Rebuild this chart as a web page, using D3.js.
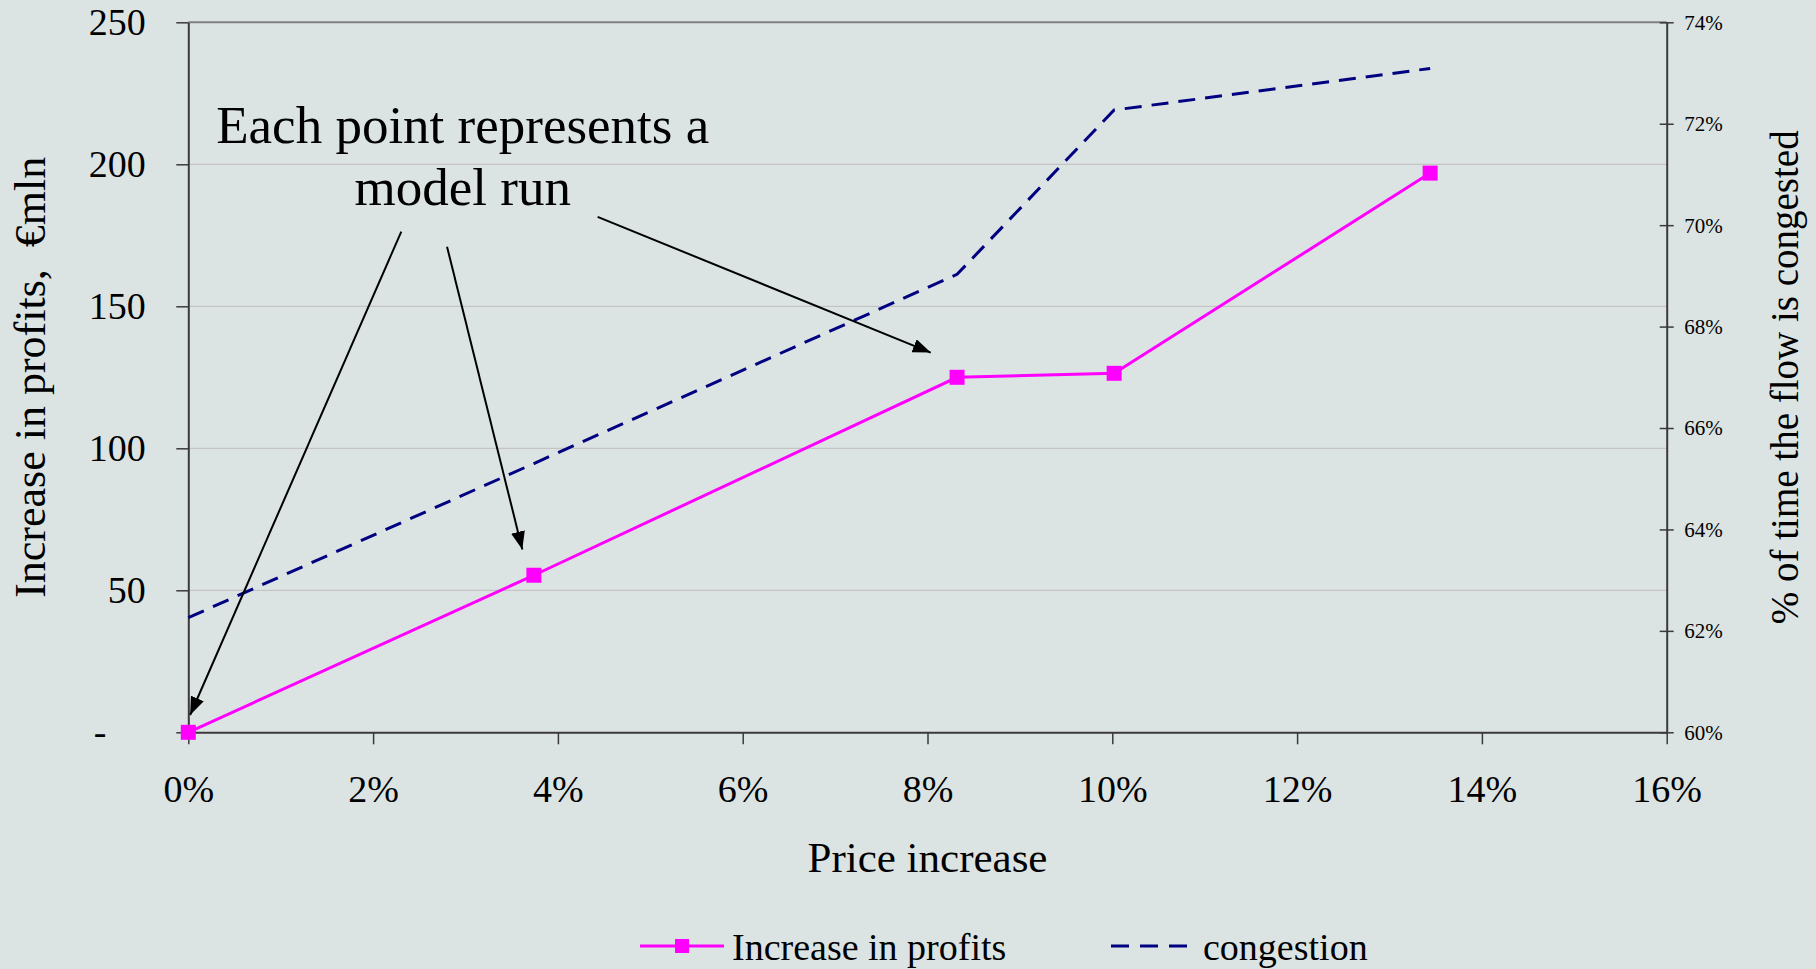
<!DOCTYPE html>
<html>
<head>
<meta charset="utf-8">
<script src="https://cdn.jsdelivr.net/npm/d3@7"></script>
<style>
  html, body { margin: 0; padding: 0; background: #dbe4e3; overflow: hidden; }
  svg text { font-family: "Times New Roman", "Liberation Serif", serif; fill: #000; }
  .axis .domain { stroke: #3a3a3a; stroke-width: 2; }
  .axis line { stroke: #3a3a3a; stroke-width: 1.5; }
</style>
</head>
<body>
<svg id="chart" width="1816" height="969"></svg>
<script>
// model runs: price increase vs. profit increase and congestion share
const priceIncrease = [0, 0.0374, 0.0832, 0.1002, 0.1344];
const profitIncrease = [0, 55.3, 125.0, 126.4, 196.9];
const congestionShare = [0.6226, 0.6530, 0.6903, 0.7227, 0.7309];

const xTicks = [0, 0.02, 0.04, 0.06, 0.08, 0.10, 0.12, 0.14, 0.16];
const profitTicks = [0, 50, 100, 150, 200, 250];
const congestionTicks = [0.60, 0.62, 0.64, 0.66, 0.68, 0.70, 0.72, 0.74];

const seriesNames = ['Increase in profits', 'congestion'];
const noteLines = ['Each point represents a', 'model run'];
// arrows of the note, in data units (price, profit)
const noteArrowFrom = [[0.02305, 176.3], [0.0280, 171.0], [0.0443, 181.5]];
const noteArrowTo = [[0.0002, 6.1], [0.03615, 64.4], [0.08035, 133.7]];

const margin = {top: 22.3, left: 188.3};
const width = 1478.4, height = 710;

const svg = d3.select('#chart');
svg.append('rect').attr('width', 1816).attr('height', 969).attr('fill', '#dbe4e3');

const defs = svg.append('defs');
defs.append('marker')
    .attr('id', 'arrowhead')
    .attr('markerUnits', 'userSpaceOnUse')
    .attr('viewBox', '0 0 18 14')
    .attr('refX', 18).attr('refY', 7)
    .attr('markerWidth', 18).attr('markerHeight', 14)
    .attr('orient', 'auto')
  .append('path')
    .attr('d', 'M0,0 L18,7 L0,14 Z')
    .attr('fill', '#000');

const g = svg.append('g').attr('transform', `translate(${margin.left},${margin.top})`);

const x = d3.scaleLinear().domain([0, 0.16]).range([0, width]);
const yLeft = d3.scaleLinear().domain([0, 250]).range([height, 0]);
const yRight = d3.scaleLinear().domain([0.60, 0.74]).range([height, 0]);

// gridlines
g.append('g')
  .selectAll('line')
  .data(profitTicks.filter(d => d > 0))
  .join('line')
    .attr('x1', 0).attr('x2', width)
    .attr('y1', d => yLeft(d)).attr('y2', d => yLeft(d))
    .attr('stroke', d => d === 250 ? '#808080' : '#c4c4c4')
    .attr('stroke-width', d => d === 250 ? 2 : 1.2);

// axes
const xAxis = g.append('g')
  .attr('class', 'axis x-axis')
  .attr('transform', `translate(0,${height})`)
  .call(d3.axisBottom(x).tickValues(xTicks).tickFormat(d3.format('.0%')).tickSize(12).tickSizeOuter(0));
xAxis.selectAll('text').attr('y', 70).attr('dy', 0).style('font-size', '38px');

const leftAxis = g.append('g')
  .attr('class', 'axis y-axis')
  .call(d3.axisLeft(yLeft).tickValues(profitTicks)
          .tickFormat(d => d === 0 ? '-' : d).tickSize(12).tickSizeOuter(0));
leftAxis.selectAll('text')
  .attr('x', -42.6).attr('dy', '0.33em').style('font-size', '38px')
  .filter(d => d === 0).attr('x', -82);

const rightAxis = g.append('g')
  .attr('class', 'axis y2-axis')
  .attr('transform', `translate(${width},0)`)
  .call(d3.axisRight(yRight).tickValues(congestionTicks)
          .tickFormat(d3.format('.0%')).tickSize(7).tickSizeOuter(0));
rightAxis.selectAll('.tick line').attr('x1', -7);
rightAxis.selectAll('text').attr('x', 17.6).attr('dy', '0.33em').style('font-size', '21px');

// axis titles
svg.append('text')
  .attr('transform', `translate(45,${margin.top + height / 2}) rotate(-90)`)
  .attr('text-anchor', 'middle')
  .style('font-size', '44px')
  .text('Increase in profits,  €mln')
  .attr('xml:space', 'preserve');

svg.append('text')
  .attr('transform', `translate(1798,${margin.top + height / 2}) rotate(-90)`)
  .attr('text-anchor', 'middle')
  .style('font-size', '39px')
  .text('% of time the flow is congested');

svg.append('text')
  .attr('x', margin.left + width / 2).attr('y', 872)
  .attr('text-anchor', 'middle')
  .style('font-size', '43px')
  .text('Price increase');

// series
const runs = priceIncrease.map((p, i) => ({p, profit: profitIncrease[i], cong: congestionShare[i]}));

g.append('path')
  .datum(runs)
  .attr('fill', 'none')
  .attr('stroke', '#000080')
  .attr('stroke-width', 3)
  .attr('stroke-dasharray', '17,10')
  .attr('d', d3.line().x(d => x(d.p)).y(d => yRight(d.cong)));

g.append('path')
  .datum(runs)
  .attr('fill', 'none')
  .attr('stroke', '#ff00ff')
  .attr('stroke-width', 3)
  .attr('d', d3.line().x(d => x(d.p)).y(d => yLeft(d.profit)));

const markerSize = 15;
g.selectAll('rect.run')
  .data(runs)
  .join('rect')
    .attr('class', 'run')
    .attr('x', d => x(d.p) - markerSize / 2)
    .attr('y', d => yLeft(d.profit) - markerSize / 2)
    .attr('width', markerSize).attr('height', markerSize)
    .attr('fill', '#ff00ff');

// note with arrows
const note = g.append('text')
  .attr('text-anchor', 'middle')
  .style('font-size', '53px');
note.selectAll('tspan')
  .data(noteLines)
  .join('tspan')
    .attr('x', x(0.0297))
    .attr('y', (d, i) => yLeft(207.4) + i * 62)
    .text(d => d);

g.selectAll('line.note-arrow')
  .data(noteArrowFrom.map((from, i) => [from, noteArrowTo[i]]))
  .join('line')
    .attr('class', 'note-arrow')
    .attr('x1', d => x(d[0][0])).attr('y1', d => yLeft(d[0][1]))
    .attr('x2', d => x(d[1][0])).attr('y2', d => yLeft(d[1][1]))
    .attr('stroke', '#000')
    .attr('stroke-width', 2)
    .attr('marker-end', 'url(#arrowhead)');

// legend
const legend = svg.append('g').attr('transform', 'translate(0,946)');
const profitKey = legend.append('g').attr('transform', 'translate(640,0)');
profitKey.append('line').attr('x1', 0).attr('x2', 84)
  .attr('stroke', '#ff00ff').attr('stroke-width', 3);
profitKey.append('rect').attr('x', 42 - 7).attr('y', -7).attr('width', 14).attr('height', 14)
  .attr('fill', '#ff00ff');
profitKey.append('text').attr('x', 92).attr('y', 14).style('font-size', '38px').text(seriesNames[0]);

const congKey = legend.append('g').attr('transform', 'translate(1111,0)');
congKey.append('line').attr('x1', 0).attr('x2', 76)
  .attr('stroke', '#000080').attr('stroke-width', 3).attr('stroke-dasharray', '18,11');
congKey.append('text').attr('x', 92).attr('y', 14).style('font-size', '38px').text(seriesNames[1]);
</script>
</body>
</html>
